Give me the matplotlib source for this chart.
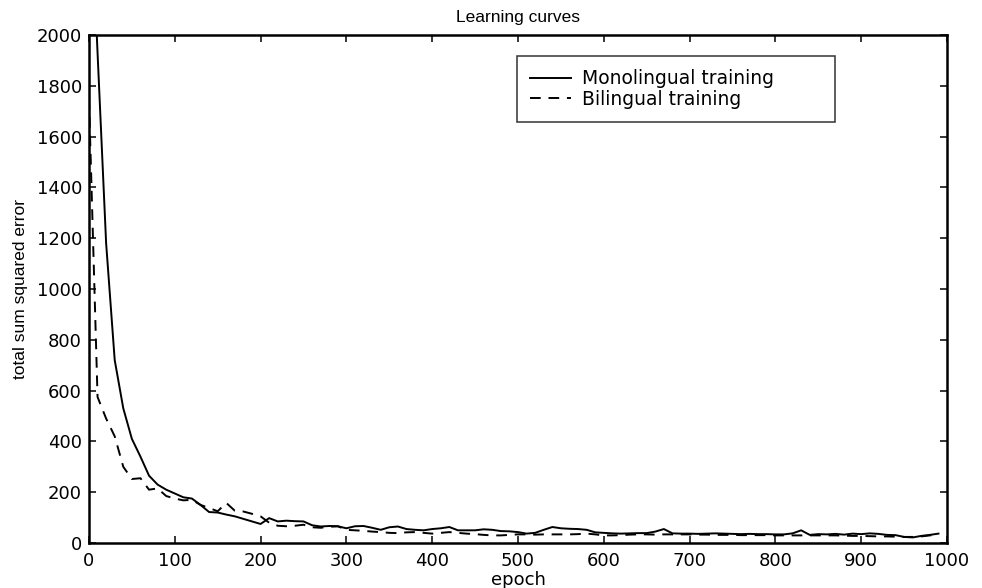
import matplotlib
matplotlib.use("Agg")
from matplotlib import pyplot as plt

# epochs sampled every 10
epochs = list(range(0, 1000, 10))

monolingual = [
    2700, 1930, 1180, 720, 530, 410, 340, 265, 230, 210,
    195, 180, 175, 150, 122, 120, 112, 105, 95, 85,
    75, 98, 85, 88, 86, 85, 70, 65, 67, 66,
    58, 66, 67, 60, 52, 62, 65, 55, 52, 50,
    55, 58, 63, 50, 50, 50, 54, 52, 47, 46,
    43, 37, 40, 52, 63, 58, 56, 55, 52, 42,
    40, 38, 37, 38, 39, 39, 45, 55, 38, 37,
    37, 36, 37, 38, 37, 36, 35, 36, 35, 35,
    34, 34, 38, 50, 32, 35, 34, 36, 33, 37,
    35, 38, 36, 32, 31, 24, 22, 28, 32, 37,
]

bilingual = [
    1750, 575, 490, 420, 300, 252, 255, 210, 215, 185,
    175, 168, 170, 150, 138, 125, 158, 127, 124, 115,
    105, 80, 68, 66, 68, 72, 62, 60, 64, 66,
    52, 50, 48, 45, 43, 40, 39, 42, 43, 40,
    37, 40, 43, 40, 37, 35, 32, 30, 30, 32,
    34, 34, 33, 34, 34, 34, 34, 35, 37, 34,
    30, 30, 31, 33, 34, 34, 33, 34, 34, 34,
    34, 33, 33, 32, 32, 32, 31, 31, 31, 31,
    30, 30, 30, 30, 30, 30, 30, 30, 29, 28,
    28, 27, 26, 26, 25, 24, 24, 26, 30, 34,
]

xticks = list(range(0, 1001, 100))
yticks = list(range(0, 2001, 200))

plt.rcParams["font.family"] = ["DejaVu Sans"]

fig = plt.figure(figsize=(9.82, 5.88), dpi=100)
ax = fig.add_axes([0.0906, 0.0765, 0.8738, 0.864])

ax.plot(epochs, monolingual, color="black", lw=1.4, label="Monolingual training")
ax.plot(epochs, bilingual, color="black", lw=1.4, ls=(0, (5.5, 4)), label="Bilingual training")

ax.set_xlim(0, 1000)
ax.set_ylim(0, 2000)
ax.set_xticks(xticks)
ax.set_yticks(yticks)
ax.tick_params(direction="in", length=5, width=1.1, top=True, right=True,
               labelsize=13)
ax.tick_params(axis="x", pad=6.5)
ax.tick_params(axis="y", pad=5)
for s in ax.spines.values():
    s.set_linewidth(1.8)

helv = ["Liberation Sans", "DejaVu Sans"]
ax.set_title("Learning curves", fontsize=12.5, family=helv, pad=9)
ax.set_xlabel("epoch", fontsize=13, labelpad=1)
ax.set_ylabel("total sum squared error", fontsize=12.5, family=helv, labelpad=6)

leg = ax.legend(loc="upper left", bbox_to_anchor=(0.4988, 0.9587, 0.371, 0.0),
                mode="expand", borderaxespad=0, fontsize=13.5, frameon=True,
                fancybox=False, edgecolor="black", handlelength=2.2,
                handletextpad=0.55, borderpad=0.7, labelspacing=0.1)
leg.get_frame().set_linewidth(1.1)

plt.savefig("out.png", dpi=100)
